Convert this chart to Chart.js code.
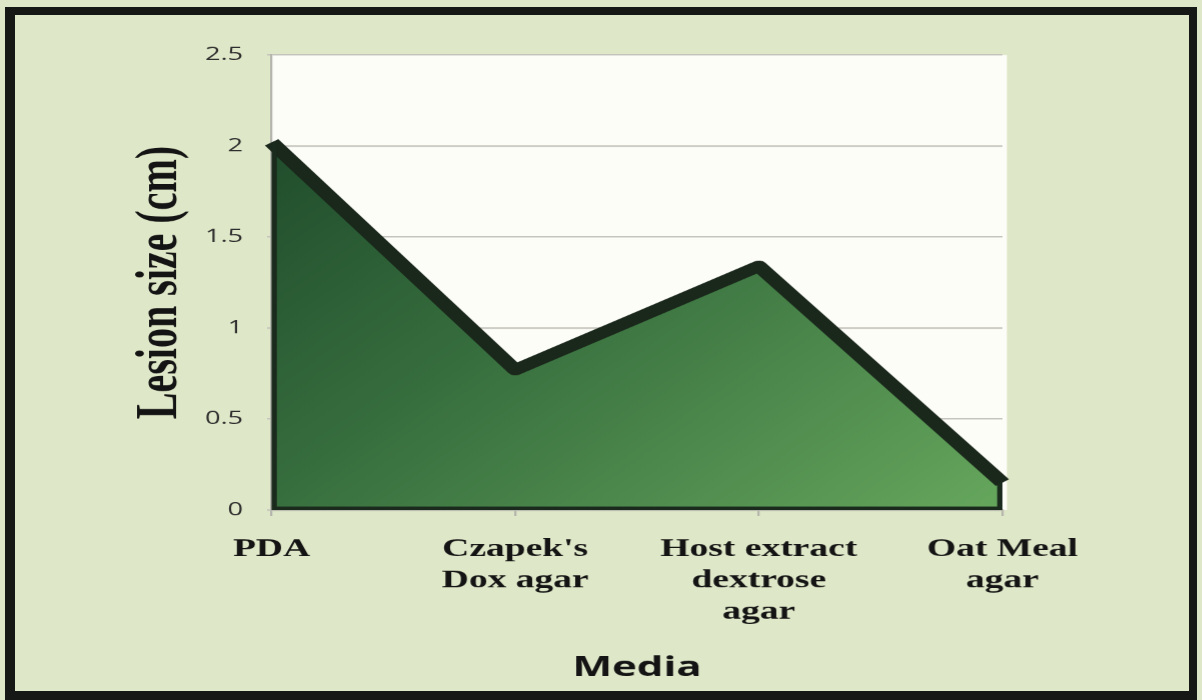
<!DOCTYPE html>
<html>
<head>
<meta charset="utf-8">
<title>Lesion size on different media</title>
<script src="https://cdn.jsdelivr.net/npm/chart.js@4.4.1/dist/chart.umd.min.js"></script>
<style>
  html, body { margin: 0; padding: 0; width: 1202px; height: 700px; overflow: hidden; background: #dee7c7; }
  /* the chart is laid out narrow and stretched sideways, like the slide it came from */
  .chart-box { position: absolute; left: 0; top: 0; width: 801px; height: 700px; transform: scaleX(1.5); transform-origin: 0 0; }
  .frame { position: absolute; left: 5px; top: 7px; width: 1174px; height: 676px; border: solid #161816; border-width: 8px 8px 9px 10px; pointer-events: none; }
</style>
</head>
<body>
<div class="chart-box"><canvas id="lesionChart" width="801" height="700"></canvas></div>
<div class="frame"></div>
<script>
var categories = ['PDA', ["Czapek's", 'Dox agar'], ['Host extract', 'dextrose', 'agar'], ['Oat Meal', 'agar']];
var lesionSize = [2.02, 0.77, 1.34, 0.15];
var yTicks = [0, 0.5, 1, 1.5, 2, 2.5];

var serif = "'Liberation Serif', 'Times New Roman', serif";
var sans = "'Open Sans', 'Liberation Sans', sans-serif";

// white plot area behind the grid
var plotBackground = {
  id: 'plotBackground',
  beforeDraw: function(chart) {
    var a = chart.chartArea;
    var ctx = chart.ctx;
    ctx.save();
    ctx.fillStyle = '#fdfdf8';
    ctx.fillRect(a.left, a.top, a.right - a.left + 3, a.bottom - a.top);
    ctx.restore();
  }
};

// dark edge down the sides and along the base of the area
var areaOutline = {
  id: 'areaOutline',
  afterDatasetsDraw: function(chart) {
    var pts = chart.getDatasetMeta(0).data;
    var first = pts[0], last = pts[pts.length - 1];
    var a = chart.chartArea;
    var ctx = chart.ctx;
    ctx.save();
    ctx.beginPath();
    ctx.rect(a.left, a.top, a.right - a.left, a.bottom - a.top);
    ctx.clip();
    ctx.strokeStyle = '#1a2a1c';
    ctx.lineWidth = 7;
    ctx.lineJoin = 'round';
    ctx.beginPath();
    ctx.moveTo(first.x, first.y);
    ctx.lineTo(first.x, a.bottom);
    ctx.lineTo(last.x, a.bottom);
    ctx.lineTo(last.x, last.y);
    ctx.stroke();
    ctx.restore();
  }
};

var ctx = document.getElementById('lesionChart').getContext('2d');

new Chart(ctx, {
  type: 'line',
  data: {
    labels: categories,
    datasets: [{
      data: lesionSize,
      fill: 'origin',
      tension: 0,
      pointRadius: 0,
      borderWidth: 11,
      borderColor: '#1a271b',
      borderJoinStyle: 'round',
      backgroundColor: function(context) {
        var a = context.chart.chartArea;
        if (!a) return '#3a7a44';
        var g = context.chart.ctx.createLinearGradient(a.left, a.top, a.right, a.bottom);
        g.addColorStop(0, '#1b4528');
        g.addColorStop(0.45, '#376e3e');
        g.addColorStop(1, '#66a75d');
        return g;
      }
    }]
  },
  options: {
    responsive: false,
    devicePixelRatio: 1.5,
    animation: false,
    layout: { padding: { left: 79, right: 133, top: 55, bottom: 11 } },
    plugins: {
      legend: { display: false },
      tooltip: { enabled: false }
    },
    scales: {
      x: {
        offset: false,
        grid: { drawOnChartArea: false, tickLength: 6, color: '#b5b5ad', lineWidth: 1.5 },
        border: { color: '#b5b5ad', width: 1.5 },
        ticks: {
          color: '#141414',
          padding: 18,
          maxRotation: 0,
          autoSkip: false,
          font: { family: serif, weight: 'bold', size: 25, lineHeight: 1.25 }
        },
        title: {
          display: true,
          text: 'Media',
          color: '#141414',
          padding: { top: 4, bottom: 4 },
          font: { family: sans, weight: 'bold', size: 28, lineHeight: 1.2 }
        },
        afterFit: function(scale) { scale.height = 179; }
      },
      y: {
        min: 0,
        max: 2.5,
        afterBuildTicks: function(scale) {
          scale.ticks = yTicks.map(function(v) { return { value: v }; });
        },
        grid: { color: '#c4c4bc', lineWidth: 1.5, tickLength: 3 },
        border: { color: '#b5b5ad', width: 1.5 },
        ticks: {
          color: '#2e2e2e',
          padding: 16,
          font: { family: sans, size: 18 },
          callback: function(v) { return String(v); }
        },
        title: {
          display: true,
          text: 'Lesion size (cm)',
          color: '#141414',
          padding: { top: 4, bottom: 4 },
          font: { family: serif, weight: 'bold', size: 40, lineHeight: 1.2 }
        },
        afterFit: function(scale) { scale.width = 102; }
      }
    }
  },
  plugins: [plotBackground, areaOutline]
});
</script>
</body>
</html>
